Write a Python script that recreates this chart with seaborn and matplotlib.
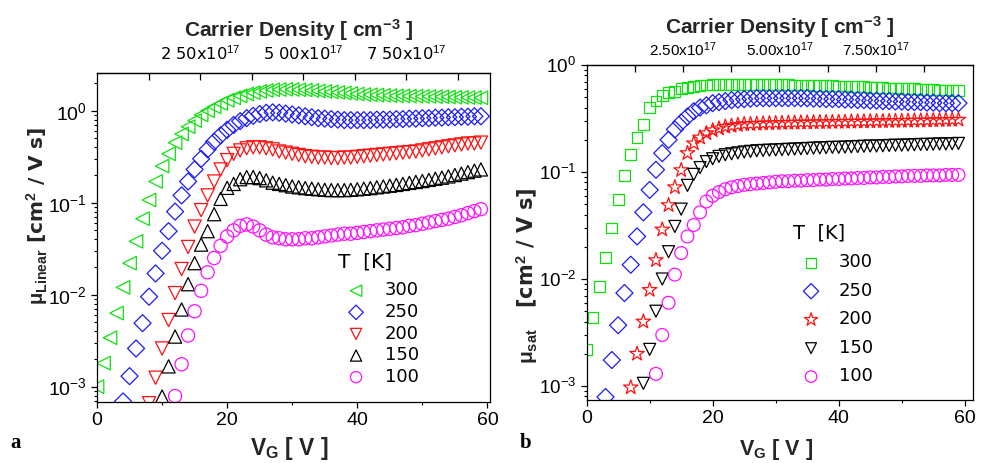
import numpy as np
import pandas as pd
import matplotlib
matplotlib.use("Agg")
import matplotlib.pyplot as plt
import seaborn as sns
from matplotlib.ticker import FixedLocator, LogLocator, NullFormatter

# ---------------- data ----------------
temps = ["300", "250", "200", "150", "100"]

# panel a : linear mobility
vg_a_300 = np.arange(0, 60)
mu_a_300 = [1.0e-3, 1.8e-3, 3.4e-3, 6.3e-3, 0.012, 0.022, 0.038, 0.067, 0.107, 0.17,
            0.25, 0.34, 0.45, 0.56, 0.67, 0.78, 0.90, 1.00, 1.10, 1.20,
            1.30, 1.38, 1.45, 1.52, 1.57, 1.62, 1.66, 1.69, 1.70, 1.71,
            1.70, 1.69, 1.68, 1.66, 1.64, 1.62, 1.60, 1.58, 1.56, 1.54,
            1.52, 1.50, 1.49, 1.48, 1.47, 1.46, 1.45, 1.45, 1.44, 1.44,
            1.43, 1.43, 1.42, 1.42, 1.41, 1.40, 1.40, 1.39, 1.39, 1.38]
vg_a_250 = np.arange(4, 60)
mu_a_250 = [6.9e-4, 1.3e-3, 2.6e-3, 4.9e-3, 9.5e-3, 0.017, 0.030, 0.049, 0.080, 0.12,
            0.17, 0.23, 0.30, 0.38, 0.46, 0.54, 0.62, 0.70, 0.77, 0.83,
            0.88, 0.92, 0.95, 0.96, 0.95, 0.93, 0.91, 0.89, 0.87, 0.85,
            0.83, 0.82, 0.81, 0.80, 0.79, 0.79, 0.79, 0.79, 0.79, 0.80,
            0.80, 0.80, 0.81, 0.81, 0.82, 0.82, 0.83, 0.83, 0.84, 0.84,
            0.85, 0.85, 0.86, 0.86, 0.87, 0.87]
vg_a_200 = np.arange(8, 60)
mu_a_200 = [6.6e-4, 1.25e-3, 2.6e-3, 5.3e-3, 0.0104, 0.019, 0.033, 0.055, 0.083, 0.12,
            0.17, 0.23, 0.29, 0.34, 0.37, 0.39, 0.40, 0.40, 0.39, 0.38,
            0.36, 0.35, 0.34, 0.33, 0.32, 0.315, 0.31, 0.31, 0.305, 0.305,
            0.31, 0.31, 0.315, 0.32, 0.325, 0.33, 0.335, 0.34, 0.345, 0.35,
            0.355, 0.36, 0.37, 0.38, 0.39, 0.40, 0.41, 0.42, 0.43, 0.44,
            0.44, 0.45]
vg_a_150 = np.arange(10, 60)
mu_a_150 = [7.8e-4, 1.66e-3, 3.5e-3, 6.9e-3, 0.013, 0.022, 0.035, 0.049, 0.075, 0.11,
            0.145, 0.16, 0.18, 0.19, 0.19, 0.185, 0.175, 0.165, 0.16, 0.155,
            0.15, 0.147, 0.144, 0.142, 0.14, 0.138, 0.137, 0.137, 0.137, 0.138,
            0.14, 0.142, 0.144, 0.147, 0.15, 0.153, 0.156, 0.16, 0.164, 0.168,
            0.172, 0.177, 0.182, 0.187, 0.193, 0.20, 0.207, 0.215, 0.223, 0.23]
vg_a_100 = np.arange(12, 60)
mu_a_100 = [7.9e-4, 1.75e-3, 3.6e-3, 6.6e-3, 0.011, 0.0175, 0.025, 0.034, 0.043, 0.050,
            0.056, 0.058, 0.055, 0.050, 0.045, 0.042, 0.041, 0.040, 0.040, 0.040,
            0.041, 0.041, 0.042, 0.043, 0.044, 0.045, 0.046, 0.046, 0.047, 0.048,
            0.049, 0.050, 0.051, 0.052, 0.053, 0.054, 0.056, 0.057, 0.059, 0.061,
            0.063, 0.065, 0.067, 0.070, 0.073, 0.077, 0.081, 0.085]

# panel b : saturation mobility
vg_b_300 = np.arange(0, 60)
mu_b_300 = [2.2e-3, 4.4e-3, 8.5e-3, 0.016, 0.030, 0.055, 0.093, 0.145, 0.21, 0.28,
            0.40, 0.46, 0.52, 0.55, 0.57, 0.60, 0.62, 0.63, 0.64, 0.65,
            0.66, 0.66, 0.66, 0.66, 0.66, 0.66, 0.66, 0.66, 0.66, 0.66,
            0.66, 0.655, 0.655, 0.65, 0.65, 0.65, 0.645, 0.645, 0.64, 0.64,
            0.635, 0.635, 0.63, 0.63, 0.625, 0.62, 0.62, 0.615, 0.61, 0.61,
            0.605, 0.60, 0.60, 0.595, 0.59, 0.59, 0.585, 0.585, 0.58, 0.58]
vg_b_250 = np.arange(3, 60)
mu_b_250 = [7.9e-4, 1.75e-3, 3.7e-3, 7.4e-3, 0.0136, 0.025, 0.042, 0.068, 0.105, 0.15,
            0.20, 0.25, 0.29, 0.33, 0.37, 0.40, 0.42, 0.44, 0.45, 0.46,
            0.47, 0.475, 0.48, 0.485, 0.49, 0.49, 0.49, 0.49, 0.49, 0.49,
            0.49, 0.49, 0.49, 0.485, 0.485, 0.48, 0.48, 0.48, 0.475, 0.475,
            0.47, 0.47, 0.465, 0.465, 0.46, 0.46, 0.455, 0.455, 0.45, 0.45,
            0.45, 0.445, 0.445, 0.44, 0.44, 0.44, 0.44]
vg_b_200 = np.arange(7, 60)
mu_b_200 = [9.7e-4, 2.0e-3, 4.0e-3, 7.9e-3, 0.015, 0.029, 0.049, 0.072, 0.104, 0.15,
            0.185, 0.21, 0.23, 0.245, 0.255, 0.265, 0.27, 0.275, 0.28, 0.28,
            0.282, 0.284, 0.285, 0.286, 0.287, 0.288, 0.289, 0.29, 0.29, 0.291,
            0.292, 0.292, 0.293, 0.294, 0.294, 0.295, 0.296, 0.296, 0.297, 0.298,
            0.298, 0.299, 0.30, 0.30, 0.301, 0.302, 0.302, 0.303, 0.304, 0.305,
            0.306, 0.307, 0.308]
vg_b_150 = np.arange(9, 60)
mu_b_150 = [1.06e-3, 2.2e-3, 5.0e-3, 0.010, 0.018, 0.031, 0.045, 0.075, 0.095, 0.11,
            0.125, 0.133, 0.14, 0.145, 0.148, 0.151, 0.154, 0.156, 0.158, 0.159,
            0.16, 0.161, 0.162, 0.163, 0.164, 0.165, 0.166, 0.167, 0.168, 0.169,
            0.17, 0.17, 0.171, 0.172, 0.173, 0.174, 0.175, 0.175, 0.176, 0.177,
            0.178, 0.178, 0.179, 0.18, 0.181, 0.181, 0.182, 0.183, 0.183, 0.184,
            0.185]
vg_b_100 = np.arange(11, 60)
mu_b_100 = [1.3e-3, 3.0e-3, 6.0e-3, 0.011, 0.0175, 0.025, 0.032, 0.042, 0.053, 0.060,
            0.065, 0.069, 0.072, 0.074, 0.076, 0.077, 0.078, 0.079, 0.080, 0.081,
            0.082, 0.082, 0.083, 0.083, 0.084, 0.084, 0.085, 0.085, 0.086, 0.086,
            0.087, 0.087, 0.088, 0.088, 0.089, 0.089, 0.090, 0.090, 0.091, 0.091,
            0.092, 0.092, 0.092, 0.093, 0.093, 0.093, 0.094, 0.094, 0.094]

colors = ["#10e010", "#1a1aff", "#ff1010", "#000000", "#ff10ff"]
markers_a = ["<", "D", "v", "^", "o"]
markers_b = ["s", "D", "*", "v", "o"]

density_ticks = [2.5e17, 5.0e17, 7.5e17]
density_labels_a = ["2 50x10$^{17}$", "5 00x10$^{17}$", "7 50x10$^{17}$"]
density_labels_b = ["2.50x10$^{17}$", "5.00x10$^{17}$", "7.50x10$^{17}$"]

# ---------------- style ----------------
sns.set_theme(style="ticks")
plt.rcParams["font.family"] = ["Liberation Sans", "DejaVu Sans"]
plt.rcParams["mathtext.fontset"] = "custom"
plt.rcParams["mathtext.rm"] = "Liberation Sans"
plt.rcParams["mathtext.it"] = "Liberation Sans:italic"
plt.rcParams["mathtext.bf"] = "Liberation Sans:bold"
plt.rcParams["axes.edgecolor"] = "black"
plt.rcParams["axes.linewidth"] = 0.9
plt.rcParams["xtick.color"] = "black"
plt.rcParams["ytick.color"] = "black"
plt.rcParams["text.color"] = "black"

WIDE = ["DejaVu Sans", "Liberation Sans"]

fig = plt.figure(figsize=(9.81, 4.63), dpi=100)
ax_a = fig.add_axes([0.0989, 0.1317, 0.4006, 0.7106])
ax_b = fig.add_axes([0.598, 0.136, 0.3938, 0.7236])


def draw_panel(ax, data, markers, sizes, xmax, ylim, k, dlabels, dfs, dfam, tickpad, ylsize):
    for (vg, mu), lab, mk, col, sz in zip(data, temps, markers, colors, sizes):
        sns.scatterplot(x=vg, y=mu, ax=ax, marker=mk, s=sz, color=col,
                        facecolor="none", edgecolor=col, linewidth=0.9,
                        label=lab, legend=False, clip_on=True)
    ax.set_yscale("log")
    ax.set_xlim(0, xmax)
    ax.set_ylim(*ylim)
    ax.xaxis.set_major_locator(FixedLocator([0, 20, 40, 60]))
    ax.xaxis.set_minor_locator(FixedLocator([10, 30, 50]))
    ax.yaxis.set_major_locator(LogLocator(base=10, numticks=10))
    ax.yaxis.set_minor_locator(LogLocator(base=10, subs=np.arange(2, 10), numticks=20))
    ax.yaxis.set_minor_formatter(NullFormatter())
    ax.tick_params(axis="both", which="major", labelsize=14, length=4.5, width=0.9,
                   direction="out", pad=3)
    ax.tick_params(axis="y", which="major", labelsize=ylsize)
    ax.tick_params(axis="both", which="minor", length=2.5, width=0.8, direction="out")
    for s in ax.spines.values():
        s.set_visible(True)
    sec = ax.secondary_xaxis("top", functions=(lambda v: v * k, lambda d: d / k))
    sec.xaxis.set_major_locator(FixedLocator(density_ticks))
    sec.xaxis.set_minor_locator(FixedLocator([1.25e17, 3.75e17, 6.25e17, 8.75e17]))
    sec.set_xticklabels(dlabels, fontsize=dfs, family=dfam)
    sec.tick_params(which="major", direction="in", length=5, width=0.9, pad=tickpad)
    sec.tick_params(which="minor", direction="in", length=5, width=0.9)
    return sec


data_a = [(vg_a_300, mu_a_300), (vg_a_250, mu_a_250), (vg_a_200, mu_a_200),
          (vg_a_150, mu_a_150), (vg_a_100, mu_a_100)]
data_b = [(vg_b_300, mu_b_300), (vg_b_250, mu_b_250), (vg_b_200, mu_b_200),
          (vg_b_150, mu_b_150), (vg_b_100, mu_b_100)]

sec_a = draw_panel(ax_a, data_a, markers_a, [95, 75, 90, 90, 90], 60.4,
                   (6.8e-4, 2.57), 1.577e16, density_labels_a, 11.7, WIDE, 7, 14)
sec_b = draw_panel(ax_b, data_b, markers_b, [60, 75, 120, 75, 85], 61.3,
                   (7.4e-4, 1.0), 1.634e16, density_labels_b, 11, None, 4, 13.5)

# axis labels
ax_a.set_ylabel(r"$\mathbf{\mu_{Linear}}$ [cm$^{\mathbf{2}}$ / V s]", fontsize=14.5,
                fontweight="bold", family=WIDE)
ax_a.yaxis.set_label_coords(-0.12, 0.565)
ax_b.set_ylabel(r"$\mathbf{\mu_{sat}}$   [cm$^{\mathbf{2}}$ / V s]", fontsize=15,
                fontweight="bold", family=WIDE)
ax_b.yaxis.set_label_coords(-0.122, 0.37)
ax_a.set_xlabel(r"V$_{\mathbf{G}}$ [ V ]", fontsize=16.5, fontweight="bold")
ax_b.set_xlabel(r"V$_{\mathbf{G}}$ [ V ]", fontsize=15.5, fontweight="bold")
ax_a.xaxis.set_label_coords(0.49, -0.10)
ax_b.xaxis.set_label_coords(0.49, -0.11)
sec_a.set_xlabel(r"Carrier Density [ cm$^{\mathbf{-3}}$ ]", fontsize=15, fontweight="bold")
sec_a.xaxis.set_label_coords(0.514, 1.092, transform=ax_a.transAxes)
sec_b.set_xlabel(r"Carrier Density [ cm$^{\mathbf{-3}}$ ]", fontsize=15, fontweight="bold")
sec_b.xaxis.set_label_coords(0.5, 1.076, transform=ax_b.transAxes)
for s in (sec_a, sec_b):
    s.xaxis.label.set_verticalalignment("bottom")

# legends
h, l = ax_a.get_legend_handles_labels()
leg_a = ax_a.legend(h, l, title="T  [K]", frameon=False, loc="upper left",
                    bbox_to_anchor=(338 / 981, 1 - 253 / 463), bbox_transform=fig.transFigure,
                    borderaxespad=0, borderpad=0, prop={"family": WIDE, "size": 13},
                    title_fontproperties={"family": WIDE, "size": 14.5},
                    handlelength=2.0, handletextpad=0.6, labelspacing=0.2,
                    alignment="left", scatterpoints=1, markerscale=0.85)
leg_a._legend_box.sep = 6.8
h, l = ax_b.get_legend_handles_labels()
leg_b = ax_b.legend(h, l, title="T  [K]", frameon=False, loc="upper left",
                    bbox_to_anchor=(793 / 981, 1 - 224 / 463), bbox_transform=fig.transFigure,
                    borderaxespad=0, borderpad=0, prop={"family": WIDE, "size": 13},
                    title_fontproperties={"family": WIDE, "size": 14},
                    handlelength=2.0, handletextpad=0.55, labelspacing=0.58,
                    alignment="left", scatterpoints=1, markerscale=0.9)

# panel letters
fig.text(10 / 981, 1 - 448 / 463, "a", fontsize=15, fontweight="bold",
         family=["Liberation Serif", "DejaVu Serif"])
fig.text(520 / 981, 1 - 448 / 463, "b", fontsize=15, fontweight="bold",
         family=["Liberation Serif", "DejaVu Serif"])

fig.savefig("out.png", dpi=100)
